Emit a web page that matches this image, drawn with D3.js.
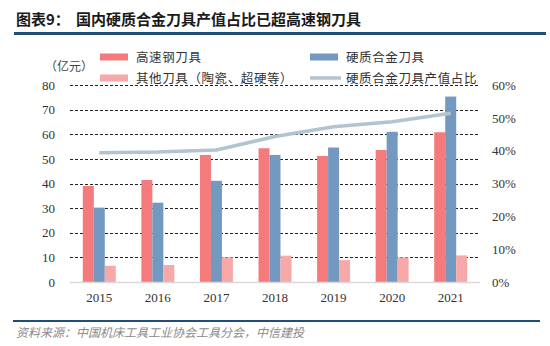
<!DOCTYPE html>
<html><head><meta charset="utf-8">
<script src="https://cdn.jsdelivr.net/npm/d3@7/dist/d3.min.js"></script>
<style>
body{margin:0;background:#fff;}
svg{display:block;}
</style></head>
<body>
<svg id="chart" width="550" height="346"></svg>
<script>
const years = ["2015","2016","2017","2018","2019","2020","2021"];
const hssValues = [39.0, 41.4, 51.6, 54.3, 51.2, 53.6, 60.8];
const carbideValues = [30.2, 32.2, 41.1, 51.6, 54.6, 61.0, 75.3];
const otherValues = [6.6, 6.9, 10.0, 10.7, 8.9, 10.0, 10.8];
const shareValues = [39.4, 39.6, 40.2, 44.3, 47.3, 48.8, 51.4];
const leftTicks = [0,10,20,30,40,50,60,70,80];
const rightTicks = [0,10,20,30,40,50,60];
const seriesNames = ["高速钢刀具","硬质合金刀具","其他刀具（陶瓷、超硬等）","硬质合金刀具产值占比"];
const colors = ["#F47A7B","#7399C1","#F7A9A9","#B1C4D0"];

const svg = d3.select("#chart");
const cjk = "'Noto Sans CJK SC','Noto Sans',sans-serif";
const serif = "'Liberation Serif','DejaVu Serif',serif";

// Title
svg.append("text").attr("x",16).attr("y",25).attr("font-family",cjk).attr("font-weight","bold")
  .attr("font-size",15).attr("fill","#1a1a1a").text("图表9：");
svg.append("text").attr("x",76).attr("y",25).attr("font-family",cjk).attr("font-weight","bold")
  .attr("font-size",15).attr("fill","#1a1a1a").text("国内硬质合金刀具产值占比已超高速钢刀具");
svg.append("line").attr("x1",14).attr("x2",546).attr("y1",33.5).attr("y2",33.5)
  .attr("stroke","#1F4E79").attr("stroke-width",3);

const L = 70, R = 480, T = 85, B = 282;
const n = years.length;
const pin = 0.437;
const x0 = d3.scaleBand().domain(years).range([L,R]).paddingInner(pin).paddingOuter(pin/2);
const x1 = d3.scaleBand().domain([0,1,2]).range([0,x0.bandwidth()]);
const y = d3.scaleLinear().domain([0,80]).range([B,T]);
const y2 = d3.scaleLinear().domain([0,60]).range([B,T]);

// gridlines
svg.append("g").selectAll("line").data(leftTicks.filter(d=>d>0)).join("line")
  .attr("x1",L).attr("x2",R).attr("y1",d=>Math.round(y(d))+0.5).attr("y2",d=>Math.round(y(d))+0.5)
  .attr("stroke","#222").attr("stroke-width",1).attr("stroke-dasharray","3,2");

// left axis
const yAxis = d3.axisLeft(y).tickValues(leftTicks).tickSize(0).tickPadding(0).tickFormat(d3.format("d"));
const gy = svg.append("g").attr("transform",`translate(55,0)`).call(yAxis);
gy.select(".domain").remove();
gy.selectAll("text").attr("font-family",serif).attr("font-size",13).attr("fill","#333");

// right axis
const yAxis2 = d3.axisRight(y2).tickValues(rightTicks).tickSize(0).tickPadding(0).tickFormat(d=>d+"%");
const gy2 = svg.append("g").attr("transform",`translate(492,0)`).call(yAxis2);
gy2.select(".domain").remove();
gy2.selectAll("text").attr("font-family",serif).attr("font-size",13).attr("fill","#333");

// bars
const seriesVals = [hssValues, carbideValues, otherValues];
seriesVals.forEach((vals,si)=>{
  svg.append("g").selectAll("rect").data(vals).join("rect")
    .attr("x",(d,i)=>x0(years[i])+x1(si))
    .attr("width",x1.bandwidth())
    .attr("y",d=>y(d)).attr("height",d=>B-y(d))
    .attr("fill",colors[si]);
});

// baseline
svg.append("line").attr("x1",L).attr("x2",R).attr("y1",B+0.5).attr("y2",B+0.5)
  .attr("stroke","#d9d9d9").attr("stroke-width",1.5);

// x axis labels
const xAxis = d3.axisBottom(x0).tickSize(0).tickPadding(11);
const gx = svg.append("g").attr("transform",`translate(0,${B})`).call(xAxis);
gx.select(".domain").remove();
gx.selectAll("text").attr("font-family",serif).attr("font-size",13).attr("fill","#333");

// share line
const line = d3.line().x((d,i)=>x0(years[i])+x0.bandwidth()/2).y(d=>y2(d));
svg.append("path").datum(shareValues).attr("d",line).attr("fill","none")
  .attr("stroke",colors[3]).attr("stroke-width",3.5).attr("stroke-linejoin","round");

// unit
svg.append("text").attr("x",45).attr("y",71).attr("font-family",cjk).attr("font-size",12)
  .attr("fill","#444").text("（亿元）");

// legend
const leg = [
  {x:100,y:57,i:0},{x:310,y:57,i:1},{x:100,y:78,i:2},{x:310,y:78,i:3}
];
leg.forEach(l=>{
  if(l.i<3){
    svg.append("rect").attr("x",l.x).attr("y",l.y-3.5).attr("width",28).attr("height",7).attr("fill",colors[l.i]);
  } else {
    svg.append("line").attr("x1",l.x).attr("x2",l.x+31).attr("y1",l.y).attr("y2",l.y)
      .attr("stroke",colors[3]).attr("stroke-width",3.5);
  }
  svg.append("text").attr("x",l.x+36).attr("y",l.y+4.5).attr("font-family",cjk).attr("font-size",12.5)
    .attr("letter-spacing",0.6).attr("fill","#333").text(seriesNames[l.i]);
});

// footer
svg.append("line").attr("x1",13).attr("x2",540).attr("y1",321).attr("y2",321)
  .attr("stroke","#1F4E79").attr("stroke-width",2);
svg.append("text").attr("x",16).attr("y",337).attr("font-family",cjk).attr("font-size",12)
  .attr("font-style","italic").attr("fill","#8a8a8a").text("资料来源：中国机床工具工业协会工具分会，中信建投");
</script>
</body></html>
